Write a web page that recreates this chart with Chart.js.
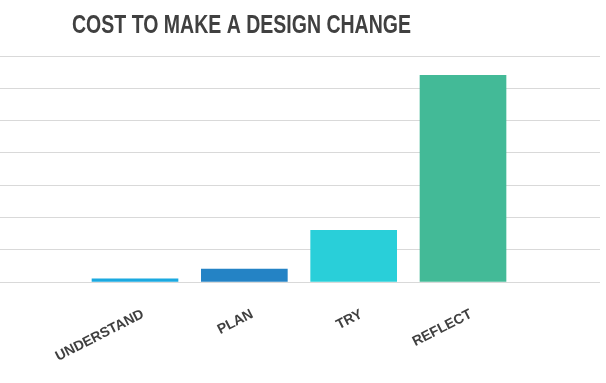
<!DOCTYPE html>
<html>
<head>
<meta charset="utf-8">
<script src="https://cdn.jsdelivr.net/npm/chart.js@4/dist/chart.umd.min.js"></script>
<style>
  html, body { margin: 0; padding: 0; background: #ffffff; }
  #wrap { width: 606px; height: 383px; position: relative; }
</style>
</head>
<body>
<div id="wrap"><canvas id="c" width="606" height="383"></canvas></div>
<script>
const titleText = 'COST TO MAKE A DESIGN CHANGE';
const categories = ['UNDERSTAND', 'PLAN', 'TRY', 'REFLECT'];
const positions = [1, 2, 3, 4];
const costValues = [1, 4, 16, 64];
const barColors = ['#1ba9e0', '#2483c5', '#29cfd9', '#43ba97'];
const yMin = 0, yMax = 70, yStep = 10;

const titlePlugin = {
  id: 'leftTitle',
  afterDraw(chart) {
    const ctx = chart.ctx;
    ctx.save();
    ctx.font = 'bold 25px "Liberation Sans", Arial, sans-serif';
    const w = ctx.measureText(titleText).width;
    const target = 339;
    const sx = target / w;
    ctx.fillStyle = '#404040';
    ctx.textAlign = 'left';
    ctx.textBaseline = 'alphabetic';
    ctx.translate(72, 33);
    ctx.scale(sx, 1);
    ctx.fillText(titleText, 0, 0);
    ctx.restore();
  }
};

new Chart(document.getElementById('c'), {
  type: 'bar',
  data: {
    datasets: [{
      data: positions.map((p, i) => ({ x: p, y: costValues[i] })),
      backgroundColor: barColors,
      borderWidth: 0,
      barThickness: 86
    }]
  },
  options: {
    responsive: false,
    animation: false,
    devicePixelRatio: 1,
    layout: { padding: { top: 56, left: 0, right: 6, bottom: 2 } },
    plugins: {
      legend: { display: false },
      title: { display: false },
      tooltip: { enabled: false }
    },
    scales: {
      x: {
        type: 'linear',
        offset: false,
        min: -0.2348,
        max: 5.253,
        grid: { display: false, offset: false },
        border: { display: false },
        afterBuildTicks(scale) {
          scale.ticks = positions.map(v => ({ value: v }));
        },
        afterFit(scale) {
          scale.paddingLeft = 0;
          scale.paddingRight = 0;
        },
        ticks: {
          autoSkip: false,
          minRotation: 27,
          maxRotation: 27,
          padding: 16,
          labelOffset: 8,
          color: '#404040',
          font: { family: '"Liberation Sans", Arial, sans-serif', size: 14, weight: 'bold' },
          callback: (v) => categories[v - 1]
        }
      },
      y: {
        min: yMin,
        max: yMax,
        ticks: { display: false, stepSize: yStep },
        grid: { color: '#d9d9d9', lineWidth: 1, drawTicks: false },
        border: { display: false }
      }
    }
  },
  plugins: [titlePlugin]
});
</script>
</body>
</html>
